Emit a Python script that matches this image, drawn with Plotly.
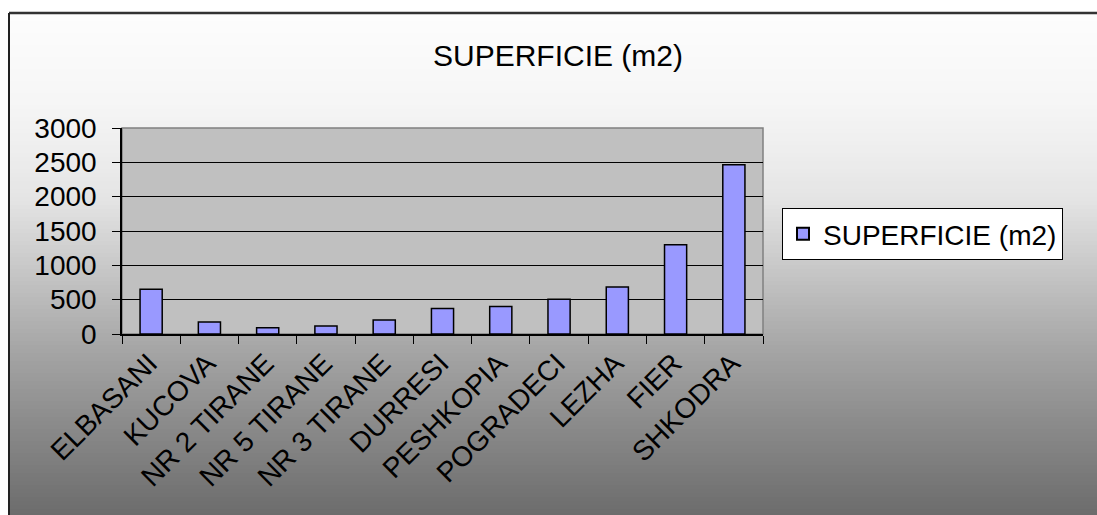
import plotly.graph_objects as go

categories = ["ELBASANI", "KUCOVA", "NR 2 TIRANE", "NR 5 TIRANE", "NR 3 TIRANE",
              "DURRESI", "PESHKOPIA", "POGRADECI", "LEZHA", "FIER", "SHKODRA"]
superficie = [650, 175, 90, 115, 205, 370, 400, 505, 685, 1300, 2465]
series_name = "SUPERFICIE (m2)"
y_ticks = [0, 500, 1000, 1500, 2000, 2500, 3000]

W, H = 1097, 515
L, R, T, B = 122, 763, 128, 334  # plot area pixel box
FONT = "Arial, Liberation Sans, sans-serif"


def px_x(p):
    return (p - L) / (R - L)


def px_y(p):
    return (B - p) / (B - T)


# background gradient stops (pixel y, gray level)
stops = [(13, 253), (100, 246), (150, 238), (200, 228), (255, 205),
         (300, 186), (350, 165), (420, 140), (515, 108)]


def gray_at(y):
    for (y0, g0), (y1, g1) in zip(stops, stops[1:]):
        if y0 <= y <= y1:
            return g0 + (g1 - g0) * (y - y0) / (y1 - y0)
    return stops[-1][1]


shapes = []
step = 4
y = 13
while y < H:
    g = int(round(gray_at(y + step / 2)))
    shapes.append(dict(type="rect", xref="paper", yref="paper",
                       x0=px_x(9), x1=px_x(W + 5), y0=px_y(y), y1=px_y(min(y + step + 1, H + 5)),
                       fillcolor=f"rgb({g},{g},{g})", line=dict(width=0), layer="below"))
    y += step

# plot area
shapes.append(dict(type="rect", xref="paper", yref="paper", x0=0, x1=1, y0=0, y1=1,
                   fillcolor="#c0c0c0", line=dict(color="#808080", width=1.5), layer="below"))
# chart frame (top & left)
shapes.append(dict(type="line", xref="paper", yref="paper", x0=px_x(9), x1=px_x(W + 5),
                   y0=px_y(13), y1=px_y(13), line=dict(color="#333333", width=2.5), layer="above"))
shapes.append(dict(type="line", xref="paper", yref="paper", x0=px_x(9), x1=px_x(9),
                   y0=px_y(13), y1=px_y(H + 5), line=dict(color="#222222", width=2), layer="above"))

fig = go.Figure()
fig.add_trace(go.Bar(
    x=categories, y=superficie, name=series_name,
    marker=dict(color="#9999ff", line=dict(color="#000000", width=1.5)),
    showlegend=True,
))

fig.update_layout(
    width=W, height=H,
    margin=dict(l=L, r=W - R, t=T, b=H - B, pad=0),
    paper_bgcolor="white",
    plot_bgcolor="rgba(0,0,0,0)",
    font=dict(family=FONT, color="black", size=28),
    title=dict(text="SUPERFICIE (m2)", x=558 / W, xanchor="center",
               y=1 - 55 / H, yanchor="middle", font=dict(size=30, family=FONT)),
    bargap=0.62,
    shapes=shapes,
    showlegend=True,
    legend=dict(x=px_x(782), y=px_y(208), xanchor="left", yanchor="top",
                bgcolor="white", bordercolor="#000000", borderwidth=1,
                font=dict(size=28, family=FONT), itemsizing="constant",
                itemwidth=30),
    xaxis=dict(showgrid=False, showline=True, linecolor="black", linewidth=1.5,
               ticks="outside", ticklen=8, tickcolor="black", tickson="boundaries",
               tickangle=-45, tickfont=dict(size=28, family=FONT), zeroline=False,
               ticklabelshift=-2, ticklabelstandoff=0),
    yaxis=dict(range=[0, 3000], tickvals=y_ticks, showgrid=True, gridcolor="black", gridwidth=1,
               showline=True, linecolor="black", linewidth=1.5, ticks="outside", ticklen=8,
               tickcolor="black", tickfont=dict(size=28, family=FONT), zeroline=False,
               ticklabelstandoff=10),
)

fig.write_html("out.html", config={"displayModeBar": False},
               post_script="document.body.style.margin='0';document.body.style.overflow='hidden';")
